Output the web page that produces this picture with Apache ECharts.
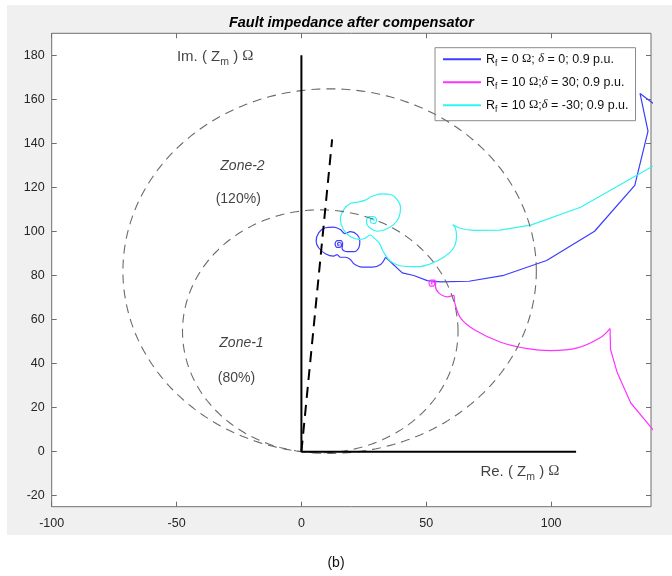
<!DOCTYPE html>
<html><head><meta charset="utf-8">
<script src="https://cdn.jsdelivr.net/npm/echarts@6/dist/echarts.min.js"></script>
<style>
html,body{margin:0;padding:0;background:#fff;}
#wrap{position:relative;width:672px;height:576px;}
#bg{position:absolute;left:6.7px;top:5px;width:666px;height:530px;background:#f0f0f0;}
#c{position:absolute;left:0;top:0;width:672px;height:576px;}
</style>
</head><body><div id="wrap"><div id="bg"></div><div id="c"></div></div>
<script>
// ---- tick labels ----
const xTickValues = [-100, -50, 0, 50, 100];
const yTickValues = [-20, 0, 20, 40, 60, 80, 100, 120, 140, 160, 180];

// ---- legend / series names ----
const seriesNames = ['Rf0_d0', 'Rf10_d30', 'Rf10_dm30'];
const legendLabels = {
  'Rf0_d0':    '{r|R}{s|f}{r| = 0 }{o|\u03A9}{r|; }{d|\u03B4}{r| = 0; 0.9 p.u.}',
  'Rf10_d30':  '{r|R}{s|f}{r| = 10 }{o|\u03A9}{r|;}{d|\u03B4}{r| = 30; 0.9 p.u.}',
  'Rf10_dm30': '{r|R}{s|f}{r| = 10 }{o|\u03A9}{r|;}{d|\u03B4}{r| = -30; 0.9 p.u.}'
};

// ---- blue trajectory: Rf = 0, delta = 0 ----
const blueFar = [[143.9,155.5],[135.6,162.7],[138.8,145.6],[133.5,120.9],[117.4,100.1],[98.2,86.8],
  [81.1,80.1],[67.1,77.4],[55.7,77.1],[50.4,77.7],[45.0,80.0],[40.4,81.2],[33.7,88.3]];
const blueNear = [[33.7,88.3],[31.7,85.0],[28.3,83.8],[24.3,83.8],[21.0,85.3],[19.6,87.3],[17.6,88.3],
  [15.6,88.3],[14.3,89.5],[12.9,88.8],[9.6,89.9],[6.9,92.6],[5.9,95.6],[6.9,99.4],[9.6,101.7],
  [12.9,102.0],[15.6,100.9],[17.4,99.0],[19.6,99.9],[22.3,98.6],[23.4,95.6],[23.0,92.6],[21.0,90.8],
  [18.3,90.8],[16.3,92.3],[16.5,94.5],[15.8,95.8],[14.3,95.8],[13.5,94.3],[14.2,92.8],[15.6,92.9],
  [16.0,94.2],[15.3,95.0],[14.5,94.6],[14.6,93.7],[15.2,93.8],[14.9,94.0]];

// ---- magenta trajectory: Rf = 10, delta = 30 ----
const magentaFar = [[143.9,5.5],[140.2,10.8],[131.9,22.1],[126.5,35.8],[123.8,46.4],[123.6,55.9]];
const magentaNear = [[123.6,55.9],[119.6,51.7],[110.5,47.1],[99.8,45.9],[90.5,46.8],[79.8,49.7],
  [69.1,55.5],[63.7,60.8],[61.4,67.6],[61.0,71.0],[58.4,70.3],[55.0,72.1],[53.7,75.1],[53.8,76.8],
  [53.2,77.9],[51.8,77.9],[51.1,76.6],[51.7,75.2],[53.0,75.3],[53.4,76.5],[52.6,77.1],[52.0,76.5],
  [52.4,76.0],[52.4,76.4]];

// ---- cyan trajectory: Rf = 10, delta = -30 ----
const cyanFar = [[145.9,132.7],[140.3,129.4],[111.8,111.0],[91.8,102.9],[79.5,100.6],[69.1,100.5],
  [65.7,100.9],[63.0,101.7],[60.6,103.0]];
const cyanNear = [[60.6,103.0],[61.7,101.4],[62.1,97.9],[61.0,92.6],[57.0,88.3],[51.7,85.3],[46.4,84.0],
  [41.0,84.2],[35.7,86.5],[32.7,91.0],[31.3,94.5],[28.9,97.3],[27.7,98.4],[25.3,96.8],[23.0,96.4],
  [19.6,97.7],[16.8,100.9],[15.6,105.5],[17.0,110.0],[19.6,112.7],[22.8,113.4],[25.3,114.1],
  [28.3,116.0],[32.3,117.1],[35.7,116.8],[38.4,114.5],[39.7,110.8],[39.0,106.2],[37.0,103.2],
  [33.7,100.9],[30.3,100.1],[27.7,101.4],[26.3,103.2],[26.1,105.0],[27.0,106.7],[29.0,106.8],
  [30.1,105.2],[29.3,103.6],[27.9,103.9],[27.6,105.2],[28.7,105.9],[29.2,105.0],[28.6,105.5]];

// ---- relay characteristic ----
const zone1Reach = [15.1, 109.3];   // mho circle diameter end (80 %)
const zone2Reach = [22.6, 164.0];   // mho circle diameter end (120 %)
const lineAngleSegment = [[0, 0], [12.3, 141.8]];
const imAxisSegment = [[0, 0], [0, 180]];
const reAxisSegment = [[0, 0], [110, 0]];

// ---- annotation texts and anchors (data coords) ----
const annotationTexts = ['{t|Im. ( Z}{s|m}{t| ) }{o|\u03A9}', '{t|Re. ( Z}{s|m}{t| ) }{o|\u03A9}',
  'Zone-2', '(120%)', 'Zone-1', '(80%)'];
const annotationAnchors = [[-19.2, 179.5], [71.7, -9.0], [-23.6, 129.7], [-25.3, 114.9], [-24.0, 49.4], [-26.0, 33.5]];

function mhoCircle(reach) {
  const cx = reach[0] / 2, cy = reach[1] / 2, r = Math.hypot(reach[0], reach[1]) / 2;
  const pts = [];
  for (let k = 0; k <= 360; k++) {
    const a = k * Math.PI / 180;
    pts.push([cx + r * Math.cos(a), cy + r * Math.sin(a)]);
  }
  return pts;
}

const FONT = 'Liberation Sans';
const SERIF = 'Liberation Serif';
const axisGray = '#6e6e6e';
const tickColor = '#262626';
const colors = { blue: '#3c3cff', magenta: '#ff33ff', cyan: '#33f3f3' };

const chart = echarts.init(document.getElementById('c'), null, { renderer: 'canvas' });

function traj(name, data, color, smooth) {
  return { type: 'line', name: name, data: data, symbol: 'none', smooth: smooth, clip: true,
    lineStyle: { color: color, width: 1.2 }, itemStyle: { color: color }, z: 3, silent: true };
}

const annoStyles = [
  { position: 'left', distance: 0 },
  { position: 'right', distance: 0 },
  { position: 'inside', fontStyle: 'italic' },
  { position: 'inside' },
  { position: 'inside', fontStyle: 'italic' },
  { position: 'inside' }
];

function axisCommon(extra) {
  return Object.assign({ type: 'value', axisLine: { show: false, onZero: false }, splitLine: { show: false } }, extra);
}

const option = {
  animation: false,
  backgroundColor: 'transparent',
  grid: { left: 51.7, right: 21, top: 33.3, bottom: 69.3, show: true, backgroundColor: '#fff',
    borderColor: axisGray, borderWidth: 1, containLabel: false },
  xAxis: [
    axisCommon({ position: 'bottom', min: -100, max: 140,
      axisTick: { inside: true, length: 5, customValues: xTickValues, lineStyle: { color: axisGray } },
      axisLabel: { customValues: xTickValues, color: tickColor, fontSize: 12.5, fontFamily: FONT, margin: 10 } }),
    axisCommon({ position: 'top', min: -100, max: 140,
      axisTick: { inside: true, length: 5, customValues: xTickValues, lineStyle: { color: axisGray } },
      axisLabel: { show: false } })
  ],
  yAxis: [
    axisCommon({ position: 'left', min: -25, max: 190,
      axisTick: { inside: true, length: 5, customValues: yTickValues, lineStyle: { color: axisGray } },
      axisLabel: { customValues: yTickValues, color: tickColor, fontSize: 12.5, fontFamily: FONT, margin: 7 } }),
    axisCommon({ position: 'right', min: -25, max: 190,
      axisTick: { inside: true, length: 5, customValues: yTickValues, lineStyle: { color: axisGray } },
      axisLabel: { show: false } })
  ],
  legend: {
    orient: 'vertical', left: 435, top: 47.7, padding: [5, 7, 7, 7], itemGap: 8,
    itemWidth: 38, itemHeight: 14, backgroundColor: '#fff', borderColor: '#8a8a8a', borderWidth: 1,
    selectedMode: false, data: seriesNames,
    itemStyle: { opacity: 0 },
    formatter: function (n) { return legendLabels[n]; },
    textStyle: { fontFamily: FONT, fontSize: 12.5, color: '#111',
      rich: {
        r: { fontFamily: FONT, fontSize: 12.5, color: '#111', verticalAlign: 'middle' },
        s: { fontFamily: FONT, fontSize: 8.5, color: '#111', padding: [8, 0, 0, 0], verticalAlign: 'middle' },
        o: { fontFamily: SERIF, fontSize: 12.5, color: '#111', verticalAlign: 'middle' },
        d: { fontFamily: SERIF, fontSize: 12.5, fontStyle: 'italic', color: '#111', verticalAlign: 'middle' }
      } }
  },
  graphic: [
    { type: 'text', x: 351.4, y: 23.3, silent: true,
      style: { text: 'Fault impedance after compensator', font: 'italic bold 14.5px "Liberation Sans"',
        fill: '#000', align: 'center', verticalAlign: 'middle' } },
    { type: 'text', x: 336, y: 563, silent: true,
      style: { text: '(b)', font: '14px "Liberation Sans"', fill: '#111', align: 'center', verticalAlign: 'middle' } }
  ],
  series: [
    traj(seriesNames[0], blueFar, colors.blue, false),
    traj(seriesNames[0], blueNear, colors.blue, 0.35),
    traj(seriesNames[1], magentaFar, colors.magenta, false),
    traj(seriesNames[1], magentaNear, colors.magenta, 0.35),
    traj(seriesNames[2], cyanFar, colors.cyan, false),
    traj(seriesNames[2], cyanNear, colors.cyan, 0.35),
    { type: 'line', name: 'zone1', data: mhoCircle(zone1Reach), symbol: 'none', silent: true, z: 4,
      lineStyle: { color: '#6a6a6a', width: 1.1, type: [9, 6] } },
    { type: 'line', name: 'zone2', data: mhoCircle(zone2Reach), symbol: 'none', silent: true, z: 4,
      lineStyle: { color: '#6a6a6a', width: 1.1, type: [9, 6] } },
    { type: 'line', name: 'imAxis', data: imAxisSegment, symbol: 'none', silent: true, z: 5,
      lineStyle: { color: '#000', width: 2 } },
    { type: 'line', name: 'reAxis', data: reAxisSegment, symbol: 'none', silent: true, z: 5,
      lineStyle: { color: '#000', width: 2 } },
    { type: 'line', name: 'lineAngle', data: lineAngleSegment, symbol: 'none', silent: true, z: 5,
      lineStyle: { color: '#000', width: 2, type: [11, 7] } },
    { type: 'scatter', name: 'annotations', symbolSize: 0, silent: true, z: 6,
      data: annotationAnchors.map(function (p, i) {
        return { value: p, label: Object.assign({ show: true, formatter: annotationTexts[i],
          color: '#111', fontSize: 14, fontFamily: FONT,
          rich: {
            t: { fontFamily: FONT, fontSize: 15, color: '#111', verticalAlign: 'middle' },
            s: { fontFamily: FONT, fontSize: 10.5, color: '#111', padding: [12, 0, 0, 0], verticalAlign: 'middle' },
            o: { fontFamily: SERIF, fontSize: 15, color: '#111', verticalAlign: 'middle' }
          } }, annoStyles[i]) };
      }) }
  ]
};
chart.setOption(option);
</script>
</body></html>
